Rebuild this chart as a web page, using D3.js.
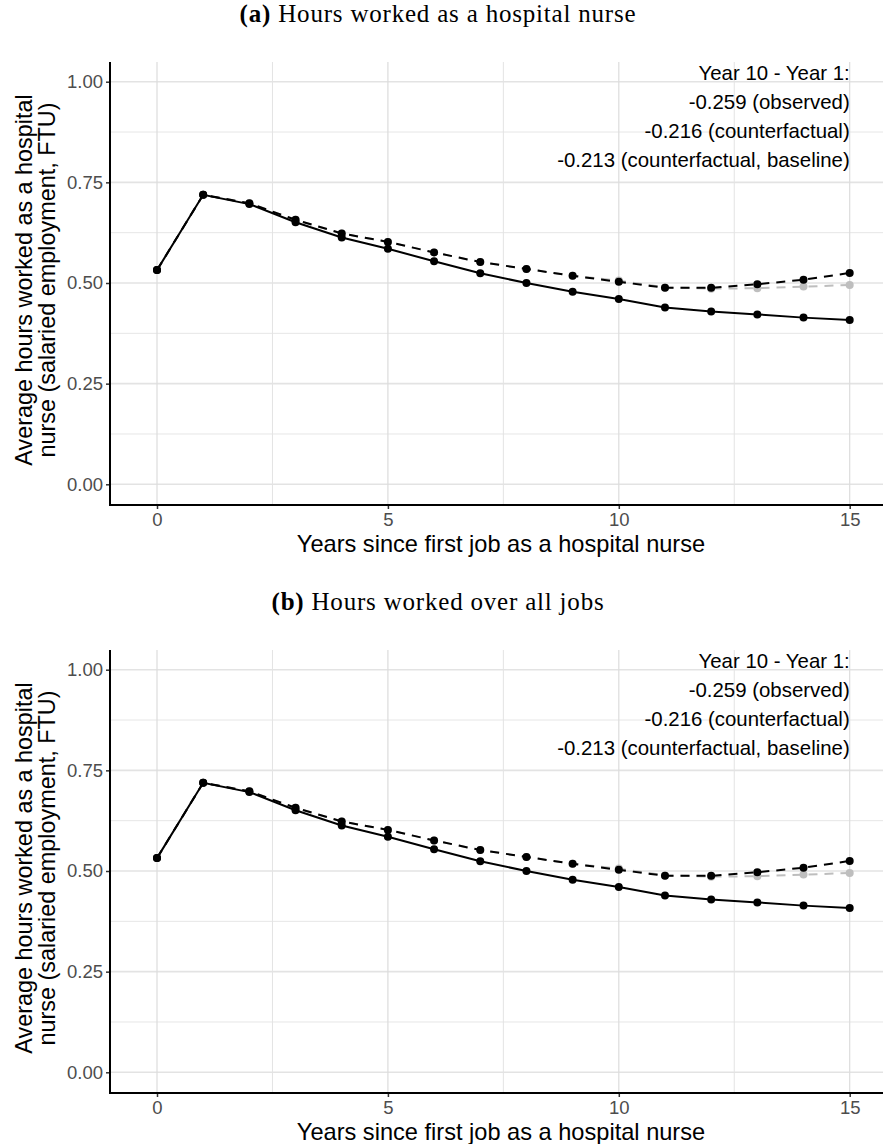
<!DOCTYPE html>
<html>
<head>
<meta charset="utf-8">
<script src="https://cdn.jsdelivr.net/npm/d3@7"></script>
<style>
  html, body { margin: 0; padding: 0; background: #ffffff; }
  svg { display: block; }
</style>
</head>
<body>
<script>
// Average hours worked (FTU) by years since first hospital nurse job
const years = [0, 1, 2, 3, 4, 5, 6, 7, 8, 9, 10, 11, 12, 13, 14, 15];
const observed = [0.532, 0.719, 0.696, 0.651, 0.613, 0.585, 0.554, 0.524, 0.500, 0.478, 0.460, 0.439, 0.429, 0.422, 0.414, 0.408];
const counterfactual = [0.532, 0.719, 0.698, 0.657, 0.623, 0.602, 0.576, 0.552, 0.535, 0.518, 0.503, 0.488, 0.488, 0.497, 0.508, 0.525];
const counterfactualBaseline = [0.532, 0.719, 0.698, 0.657, 0.623, 0.602, 0.576, 0.552, 0.535, 0.518, 0.506, 0.489, 0.486, 0.487, 0.491, 0.495];

const xTicks = [0, 5, 10, 15];
const xMinor = [2.5, 7.5, 12.5];
const yTicks = [0, 0.25, 0.5, 0.75, 1];
const yMinor = [0.125, 0.375, 0.625, 0.875];

const annotationLines = [
  "Year 10 - Year 1:",
  "-0.259 (observed)",
  "-0.216 (counterfactual)",
  "-0.213 (counterfactual, baseline)"
];

const panelTitles = [
  { tag: "(a)", text: " Hours worked as a hospital nurse" },
  { tag: "(b)", text: " Hours worked over all jobs" }
];

const yTitleLines = ["Average hours worked as a hospital", "nurse (salaried employment, FTU)"];
const xTitle = "Years since first job as a hospital nurse";

const W = 883, H = 1144;
const svg = d3.select("body").append("svg").attr("width", W).attr("height", H);

const sans = "'Liberation Sans', Arial, sans-serif";
const serif = "'Liberation Serif', 'Times New Roman', serif";

function drawPanel(offset, title) {
  const g = svg.append("g").attr("transform", `translate(0,${offset})`);
  const left = 110, right = 883, top = 62, bottom = 505;

  const x = d3.scaleLinear().domain([0, 15]).range([157, 849.7]);
  const y = d3.scaleLinear().domain([0, 1]).range([484.3, 81.7]);

  // panel title
  const t = g.append("text")
    .attr("x", 438).attr("y", 22)
    .attr("text-anchor", "middle")
    .style("font-family", serif).style("font-size", "25px")
    .style("letter-spacing", "0.8px").attr("fill", "#000");
  t.append("tspan").style("font-weight", "bold").text(title.tag);
  t.append("tspan").text(title.text);

  // grid
  const grid = g.append("g");
  grid.selectAll("line.ymin").data(yMinor).join("line")
    .attr("x1", left).attr("x2", right)
    .attr("y1", d => y(d)).attr("y2", d => y(d))
    .attr("stroke", "#e6e6e6").attr("stroke-width", 1);
  grid.selectAll("line.xmin").data(xMinor).join("line")
    .attr("y1", top).attr("y2", bottom)
    .attr("x1", d => x(d)).attr("x2", d => x(d))
    .attr("stroke", "#e3e3e3").attr("stroke-width", 1);
  grid.selectAll("line.ymaj").data(yTicks).join("line")
    .attr("x1", left).attr("x2", right)
    .attr("y1", d => y(d)).attr("y2", d => y(d))
    .attr("stroke", "#e3e3e3").attr("stroke-width", 1.6);
  grid.selectAll("line.xmaj").data(xTicks).join("line")
    .attr("y1", top).attr("y2", bottom)
    .attr("x1", d => x(d)).attr("x2", d => x(d))
    .attr("stroke", "#dcdcdc").attr("stroke-width", 1.2);

  // axes
  const yAxis = d3.axisLeft(y).tickValues(yTicks).tickFormat(d3.format(".2f")).tickSize(4).tickPadding(3);
  const ya = g.append("g").attr("transform", `translate(${left},0)`).call(yAxis);
  ya.select(".domain").remove();
  ya.selectAll(".tick line").attr("stroke", "#333").attr("stroke-width", 1.5);
  ya.selectAll(".tick text").style("font-family", sans).style("font-size", "18.5px").attr("fill", "#4d4d4d");

  const xAxis = d3.axisBottom(x).tickValues(xTicks).tickFormat(d3.format("d")).tickSize(4).tickPadding(4);
  const xa = g.append("g").attr("transform", `translate(0,${bottom})`).call(xAxis);
  xa.select(".domain").remove();
  xa.selectAll(".tick line").attr("stroke", "#333").attr("stroke-width", 1.5);
  xa.selectAll(".tick text").style("font-family", sans).style("font-size", "18.5px").attr("fill", "#4d4d4d");

  g.append("line").attr("x1", left).attr("x2", left).attr("y1", top).attr("y2", bottom + 1)
    .attr("stroke", "#000").attr("stroke-width", 2);
  g.append("line").attr("x1", left - 1).attr("x2", right).attr("y1", bottom).attr("y2", bottom)
    .attr("stroke", "#000").attr("stroke-width", 2);

  // axis titles
  g.append("text").attr("x", 501).attr("y", 552)
    .attr("text-anchor", "middle")
    .style("font-family", sans).style("font-size", "23.6px").attr("fill", "#000")
    .text(xTitle);
  const yt = g.append("text")
    .attr("transform", `translate(32,280) rotate(-90)`)
    .attr("text-anchor", "middle")
    .style("font-family", sans).style("font-size", "23.4px").attr("fill", "#000");
  yTitleLines.forEach((s, i) => {
    yt.append("tspan").attr("x", 0).attr("dy", i === 0 ? 0 : 23).text(s);
  });

  // series
  const line = d3.line().x((d, i) => x(years[i])).y(d => y(d));
  const series = [
    { values: counterfactualBaseline, color: "#bebebe", dash: "9,7" },
    { values: counterfactual, color: "#000", dash: "9,7" },
    { values: observed, color: "#000", dash: null }
  ];
  series.forEach(s => {
    g.append("path").datum(s.values)
      .attr("d", line).attr("fill", "none")
      .attr("stroke", s.color).attr("stroke-width", 2)
      .attr("stroke-dasharray", s.dash);
    g.append("g").selectAll("circle").data(s.values).join("circle")
      .attr("cx", (d, i) => x(years[i])).attr("cy", d => y(d))
      .attr("r", 4).attr("fill", s.color);
  });

  // annotation
  const ann = g.append("text")
    .attr("text-anchor", "end")
    .style("font-family", sans).style("font-size", "20.4px").attr("fill", "#000");
  annotationLines.forEach((s, i) => {
    ann.append("tspan").attr("x", x(15)).attr("y", 80 + i * 29).text(s);
  });
}

drawPanel(0, panelTitles[0]);
drawPanel(588, panelTitles[1]);
</script>
</body>
</html>
